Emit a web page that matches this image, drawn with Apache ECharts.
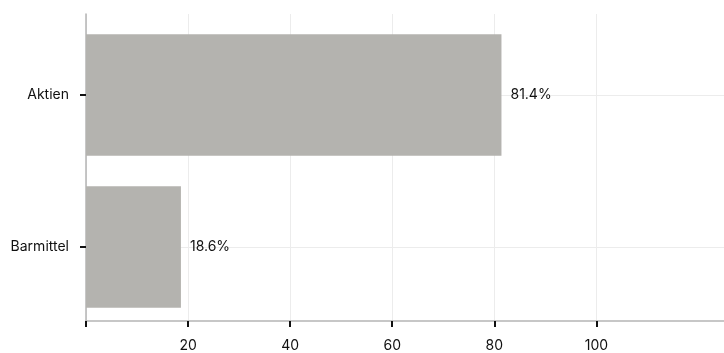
<!DOCTYPE html>
<html>
<head>
<meta charset="utf-8">
<script src="https://cdn.jsdelivr.net/npm/echarts@6/dist/echarts.min.js"></script>
<style>
  html, body { margin: 0; padding: 0; background: #fff; }
  #chart { width: 724px; height: 353px; }
</style>
</head>
<body>
<div id="chart"></div>
<script>
// data
const categories = ['Aktien', 'Barmittel'];
const shares = [81.4, 18.6];
const tickValues = [0, 20, 40, 60, 80, 100];
const labelValues = [20, 40, 60, 80, 100];

const font = 'Inter, "Noto Sans", sans-serif';
const gridColor = '#ececec';
const axisColor = '#b5b5b5';

const chart = echarts.init(document.getElementById('chart'));

const option = {
  animation: false,
  backgroundColor: '#fff',
  textStyle: { fontFamily: font },
  grid: [
    // bars + category axis
    { left: 86, right: 0, top: 19, bottom: 30 },
    // frame: axis lines, value ticks, vertical grid
    { left: 86, right: 0, top: 14, bottom: 26 }
  ],
  xAxis: [
    {
      type: 'value', gridIndex: 0, min: 0, max: 125,
      axisLine: { show: false }, axisTick: { show: false },
      axisLabel: { show: false }, splitLine: { show: false }
    },
    {
      type: 'value', gridIndex: 1, min: 0, max: 125, interval: 20,
      axisLine: { show: true, lineStyle: { color: axisColor, width: 1.5 } },
      axisTick: {
        show: true, length: 6, customValues: tickValues,
        lineStyle: { color: '#111', width: 2 }
      },
      axisLabel: {
        customValues: labelValues, margin: 18,
        color: '#111', fontSize: 14, fontFamily: font
      },
      splitLine: { show: true, lineStyle: { color: gridColor, width: 1 } }
    }
  ],
  yAxis: [
    {
      type: 'category', gridIndex: 0, data: categories, inverse: true,
      axisLine: { show: false },
      axisTick: {
        show: true, alignWithLabel: true, length: 6,
        lineStyle: { color: '#111', width: 2 }
      },
      axisLabel: { margin: 17, color: '#111', fontSize: 14, fontFamily: font },
      splitLine: {
        show: true, alignWithLabel: true,
        lineStyle: { color: gridColor, width: 1 }
      }
    },
    {
      type: 'value', gridIndex: 1,
      axisLine: { show: true, lineStyle: { color: axisColor, width: 1.5 } },
      axisTick: { show: false }, axisLabel: { show: false },
      splitLine: { show: false }
    }
  ],
  series: [
    {
      type: 'bar',
      xAxisIndex: 0,
      yAxisIndex: 0,
      data: shares,
      barCategoryGap: '20%',
      itemStyle: { color: '#b4b3af' },
      label: {
        show: true, position: 'right', distance: 9,
        color: '#111', fontSize: 14, fontFamily: font,
        formatter: p => p.value.toFixed(1) + '%'
      }
    }
  ]
};

chart.setOption(option);
</script>
</body>
</html>
